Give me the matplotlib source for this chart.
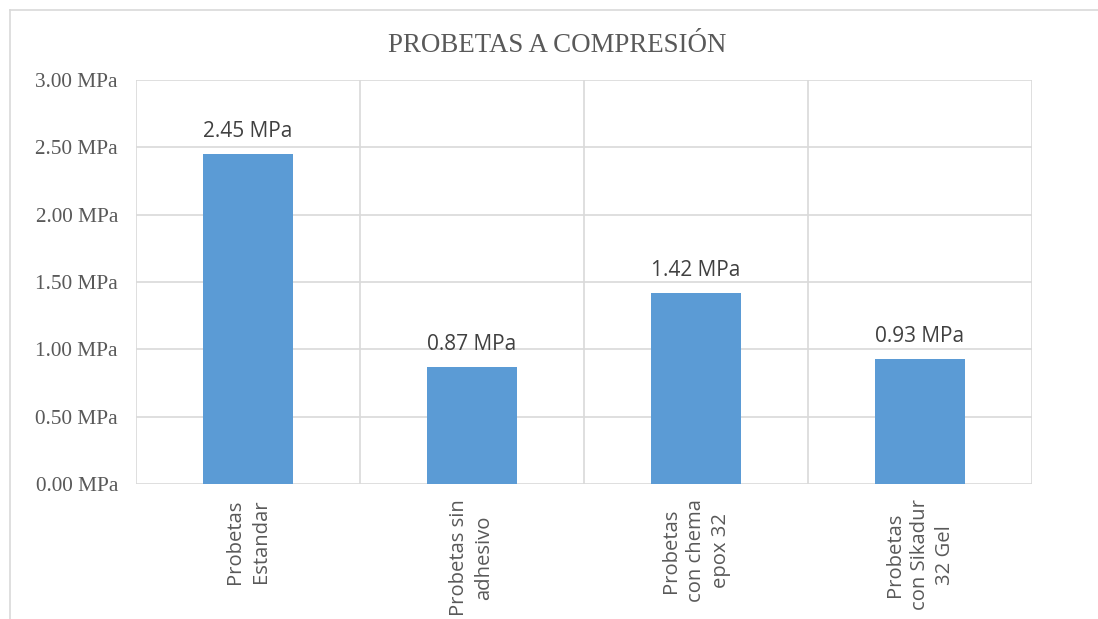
import matplotlib
matplotlib.use("Agg")
import matplotlib.pyplot as plt
from matplotlib.lines import Line2D
import numpy as np

# data
categories = ["Probetas\nEstandar", "Probetas sin\nadhesivo",
              "Probetas\ncon chema\nepox 32", "Probetas\ncon Sikadur\n32 Gel"]
values = [2.45, 0.87, 1.42, 0.93]
yticks = [0.0, 0.5, 1.0, 1.5, 2.0, 2.5, 3.0]
title = "PROBETAS A COMPRESIÓN"

W, H = 1098, 619
bar_color = "#5B9BD5"
grid_color = "#D9D9D9"
text_color = "#595959"
serif = "Liberation Serif"
sans = "Open Sans"

fig = plt.figure(figsize=(W / 100, H / 100), dpi=100)
fig.patch.set_facecolor("white")

# axes box in pixel terms
left, right, top, bottom = 136, 1032, 80, 484
ax = fig.add_axes([left / W, 1 - bottom / H, (right - left) / W, (bottom - top) / H])

x = np.arange(len(categories))
ax.bar(x, values, width=0.4, color=bar_color, zorder=3)

ax.set_xlim(-0.5, len(categories) - 0.5)
ax.set_ylim(0, 3.0)
ax.set_yticks(yticks)
ax.set_yticklabels([f"{v:.2f} MPa" for v in yticks], family=serif,
                   fontsize=15.3, color=text_color)
ax.set_xticks(x)
ax.set_xticklabels(categories, rotation=90, ha="center", va="top",
                   multialignment="center", family=sans, fontsize=14.6,
                   color=text_color, linespacing=1.35)
ax.tick_params(axis="both", length=0)
ax.tick_params(axis="y", pad=13)
ax.tick_params(axis="x", pad=11)

# gridlines: horizontal at ticks, vertical between categories
for y in yticks:
    ax.axhline(y, color=grid_color, linewidth=1.2, zorder=1)
for b in np.arange(-0.5, len(categories), 1.0):
    ax.axvline(b, color=grid_color, linewidth=1.2, zorder=1)
for s in ax.spines.values():
    s.set_visible(False)

for xi, v in zip(x, values):
    ax.annotate(f"{v:.2f} MPa", xy=(xi, v), xytext=(0, 12),
                textcoords="offset points", ha="center", va="baseline",
                family=sans, fontsize=15, color="#404040")

fig.text(557 / W, 1 - 46 / H, title, ha="center", va="center",
         family=serif, fontsize=19.4, color=text_color)

# outer chart border (only top and left visible in the crop)
fig.add_artist(Line2D([9.5 / W, 1.0], [1 - 9.5 / H, 1 - 9.5 / H],
                      transform=fig.transFigure, color=grid_color, linewidth=1.2))
fig.add_artist(Line2D([9.5 / W, 9.5 / W], [0, 1 - 9.5 / H],
                      transform=fig.transFigure, color=grid_color, linewidth=1.2))

fig.savefig("out.png", dpi=100, facecolor="white")
